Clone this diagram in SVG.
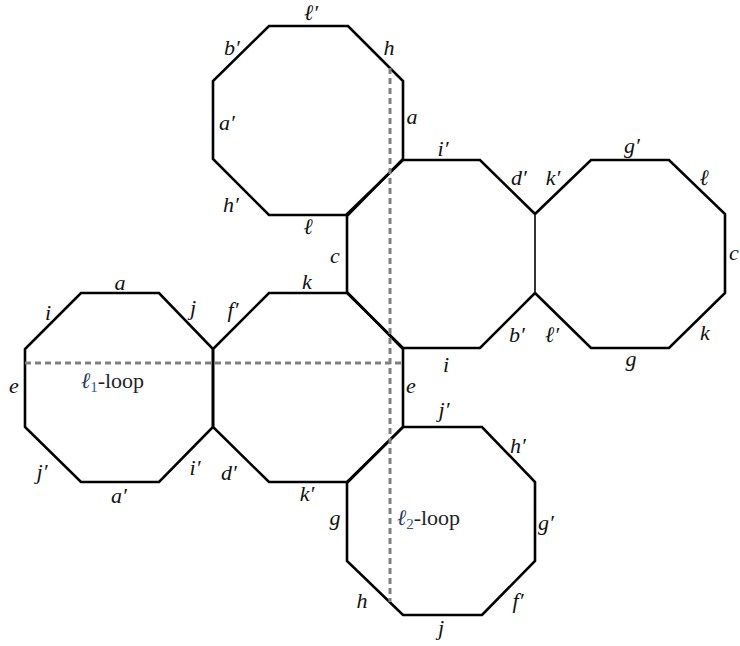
<svg xmlns="http://www.w3.org/2000/svg" width="740" height="646" viewBox="0 0 740 646" font-family="Liberation Serif, serif" font-size="22">
<style>
.oct{fill:none;stroke:#000;stroke-width:2.6;stroke-linejoin:miter}
.thin{fill:none;stroke:#000;stroke-width:1.6}
.dash{fill:none;stroke:#808080;stroke-width:3;stroke-dasharray:6 4}
</style>
<rect width="740" height="646" fill="#fff"/>
<g id="oct-top" font-style="italic" text-anchor="middle" fill="#111">
<polygon class="oct" points="269,26 348,26 403,81 403,159 348,215 269,215 213,159 213,81"/>
<text x="311" y="20">ℓ′</text>
<text x="232" y="55">b′</text>
<text x="389" y="55">h</text>
<text x="227" y="130">a′</text>
<text x="412" y="124">a</text>
<text x="231" y="212">h′</text>
<text x="308" y="234">ℓ</text>
</g>
<g id="oct-midright" font-style="italic" text-anchor="middle" fill="#111">
<polyline class="oct" points="535,214 480,160 403,160 347,214 347,293 403,348 480,348 535,293"/>
<text x="335" y="263">c</text>
<text x="443" y="156">i′</text>
<text x="519" y="185">d′</text>
<text x="517" y="342">b′</text>
<text x="446" y="372">i</text>
</g>
<g id="oct-right" font-style="italic" text-anchor="middle" fill="#111">
<polyline class="oct" points="535,214 591,160 669,160 725,214 725,293 669,348 591,348 535,293"/>
<line class="thin" x1="535" y1="214" x2="535" y2="293"/>
<text x="553" y="185">k′</text>
<text x="632" y="153">g′</text>
<text x="704" y="185">ℓ</text>
<text x="734" y="260">c</text>
<text x="705" y="340">k</text>
<text x="631" y="366">g</text>
<text x="552" y="342">ℓ′</text>
</g>
<g id="oct-left" font-style="italic" text-anchor="middle" fill="#111">
<polygon class="oct" points="81,293 159,293 213,349 213,427 159,482 81,482 25,427 25,349"/>
<text x="120" y="290">a</text>
<text x="48" y="320">i</text>
<text x="193" y="315">j</text>
<text x="14" y="393">e</text>
<text x="42" y="479">j′</text>
<text x="119" y="503">a′</text>
<text x="195" y="475">i′</text>
</g>
<g id="oct-center" font-style="italic" text-anchor="middle" fill="#111">
<polygon class="oct" points="269,293 348,293 403,349 403,427 348,482 269,482 213,427 213,349"/>
<text x="307" y="289">k</text>
<text x="233" y="317">f′</text>
<text x="411" y="393">e</text>
<text x="229" y="480">d′</text>
<text x="307" y="501">k′</text>
</g>
<g id="oct-bottom" font-style="italic" text-anchor="middle" fill="#111">
<polygon class="oct" points="403,427 482,427 535,482 535,561 482,615 403,615 347,561 347,482"/>
<text x="444" y="417">j′</text>
<text x="518" y="453">h′</text>
<text x="335" y="525">g</text>
<text x="546" y="530">g′</text>
<text x="362" y="608">h</text>
<text x="518" y="608">f′</text>
<text x="441" y="635">j</text>
</g>
<g id="connectors">
<line class="dash" x1="390" y1="68" x2="390" y2="602"/>
<line class="dash" x1="25" y1="363" x2="403" y2="363"/>
</g>
<g id="loop-labels" fill="#1e1e28">
<text x="81" y="388"><tspan font-style="italic" fill="#2a3a5c">ℓ</tspan><tspan font-size="15" fill="#2c5a96" dy="4">1</tspan><tspan dy="-4">-loop</tspan></text>
<text x="397" y="525"><tspan font-style="italic" fill="#2a3a5c">ℓ</tspan><tspan font-size="15" fill="#2c5a96" dy="4">2</tspan><tspan dy="-4">-loop</tspan></text>
</g>
</svg>
